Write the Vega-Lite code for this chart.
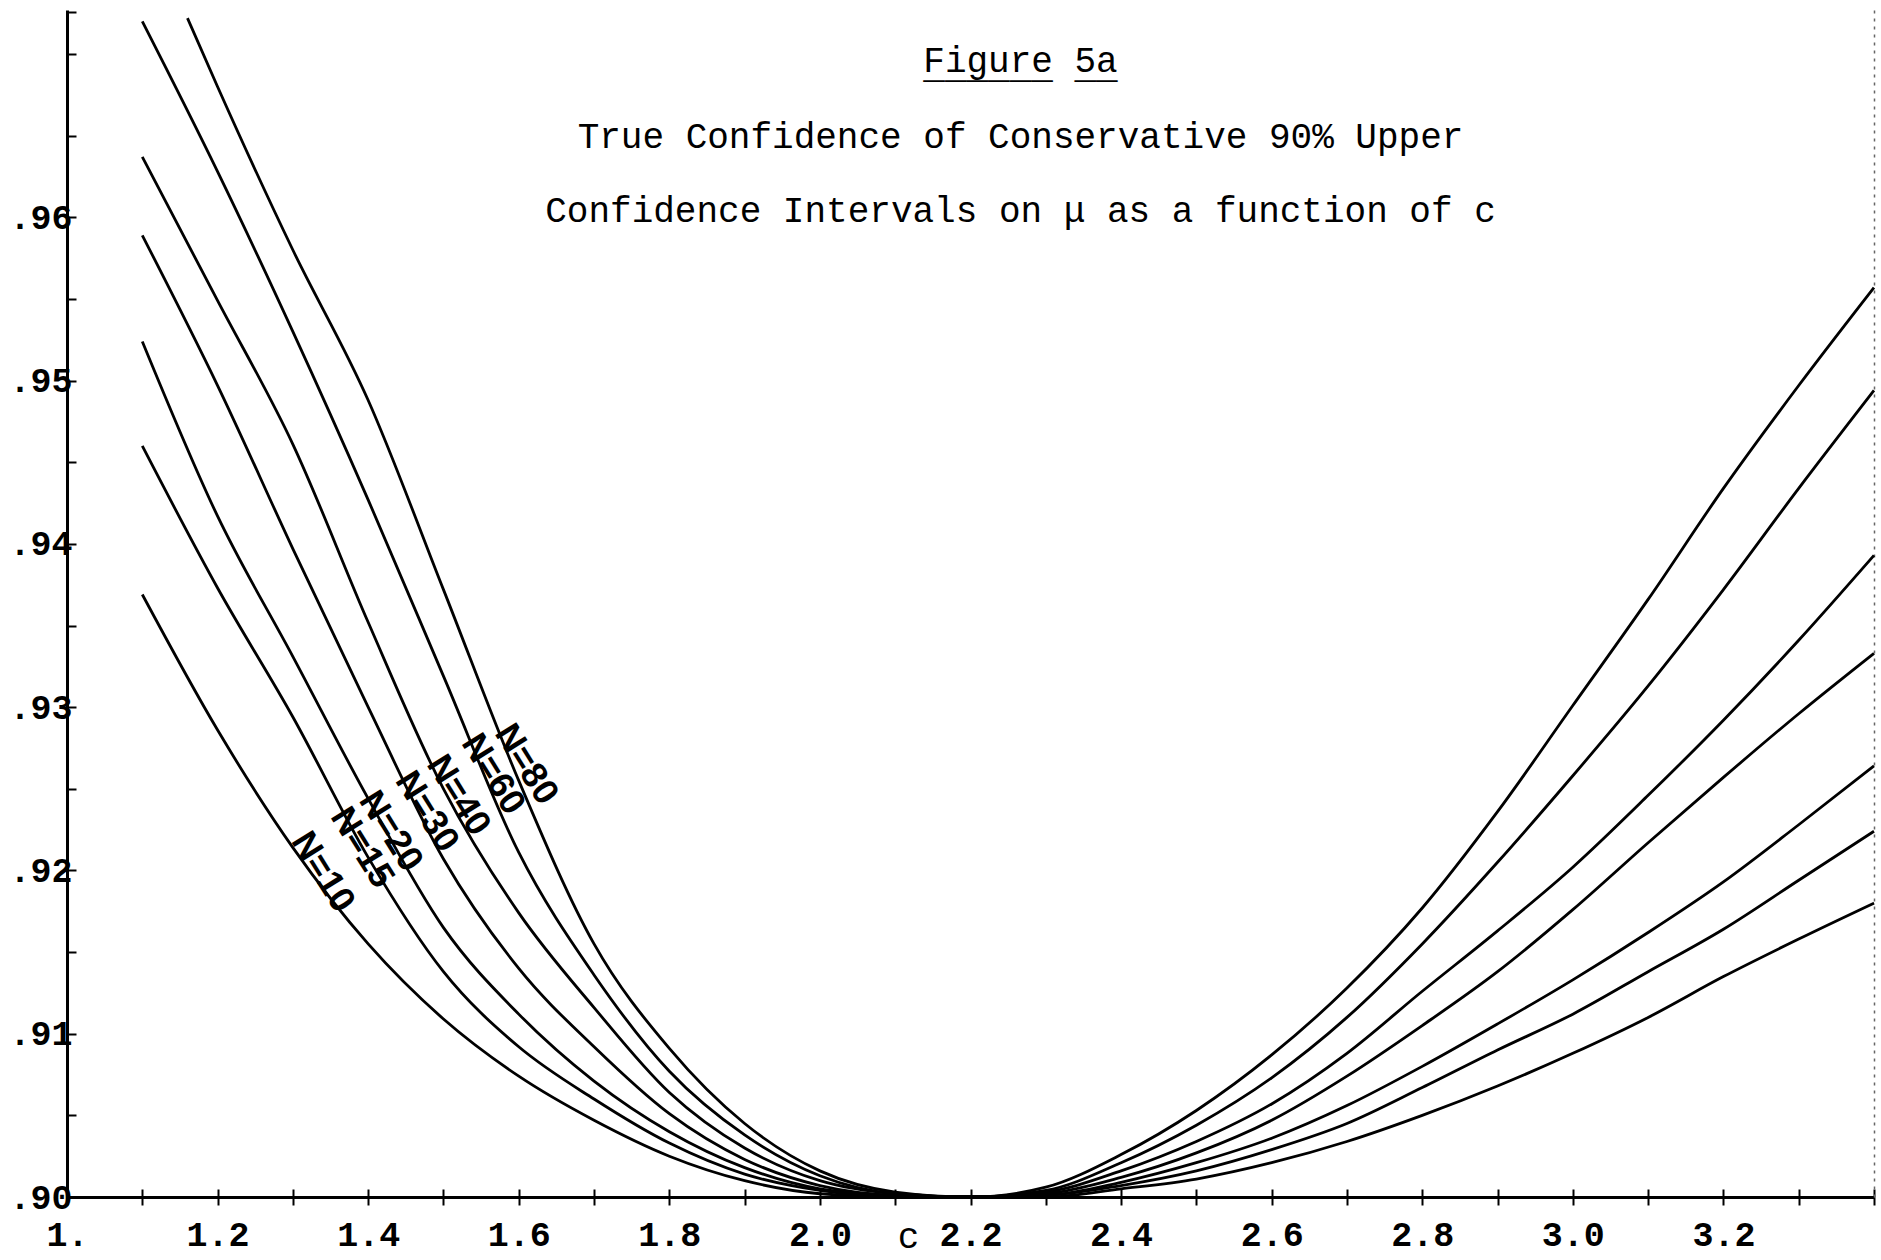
{
  "$schema": "https://vega.github.io/schema/vega-lite/v6.json",
  "width": 1807,
  "height": 1187,
  "autosize": {"type": "none"},
  "padding": {"left": 67, "top": 10, "right": 7, "bottom": 63},
  "background": "white",
  "config": {
    "view": {"stroke": null},
    "font": "Liberation Mono",
    "axis": {"grid": false, "domainColor": "black", "tickColor": "black", "labelColor": "black", "titleColor": "black"}
  },
  "title": {
    "text": ["\u00a0Figure 5a", "\u00a0______ __"],
    "subtitle": ["True Confidence of Conservative 90% Upper", "Confidence Intervals on μ as a function of c"],
    "anchor": "middle",
    "frame": "group",
    "dx": 50,
    "offset": -235,
    "font": "Liberation Mono",
    "fontSize": 36,
    "fontWeight": "normal",
    "lineHeight": 6,
    "color": "black",
    "subtitleFont": "Liberation Mono",
    "subtitleFontSize": 36,
    "subtitleColor": "black",
    "subtitleLineHeight": 74,
    "subtitlePadding": 34
  },
  "datasets": {
    "curves": [
      {"N": 10, "c": 1.1, "p": 0.9369}, {"N": 10, "c": 1.2, "p": 0.9286}, {"N": 10, "c": 1.3, "p": 0.9214}, {"N": 10, "c": 1.4, "p": 0.9155},
      {"N": 10, "c": 1.5, "p": 0.9109}, {"N": 10, "c": 1.6, "p": 0.9074}, {"N": 10, "c": 1.7, "p": 0.9047}, {"N": 10, "c": 1.8, "p": 0.9025},
      {"N": 10, "c": 1.9, "p": 0.9010}, {"N": 10, "c": 2.0, "p": 0.9002}, {"N": 10, "c": 2.1, "p": 0.9000}, {"N": 10, "c": 2.2, "p": 0.9000},
      {"N": 10, "c": 2.3, "p": 0.9000}, {"N": 10, "c": 2.4, "p": 0.9005}, {"N": 10, "c": 2.5, "p": 0.9011}, {"N": 10, "c": 2.6, "p": 0.9021},
      {"N": 10, "c": 2.7, "p": 0.9034}, {"N": 10, "c": 2.8, "p": 0.9050}, {"N": 10, "c": 2.9, "p": 0.9068}, {"N": 10, "c": 3.0, "p": 0.9088},
      {"N": 10, "c": 3.1, "p": 0.9110}, {"N": 10, "c": 3.2, "p": 0.9135}, {"N": 10, "c": 3.3, "p": 0.9158}, {"N": 10, "c": 3.4, "p": 0.9180},

      {"N": 15, "c": 1.1, "p": 0.9460}, {"N": 15, "c": 1.2, "p": 0.9373}, {"N": 15, "c": 1.3, "p": 0.9294}, {"N": 15, "c": 1.4, "p": 0.9208},
      {"N": 15, "c": 1.5, "p": 0.9138}, {"N": 15, "c": 1.6, "p": 0.9092}, {"N": 15, "c": 1.7, "p": 0.9060}, {"N": 15, "c": 1.8, "p": 0.9033},
      {"N": 15, "c": 1.9, "p": 0.9014}, {"N": 15, "c": 2.0, "p": 0.9004}, {"N": 15, "c": 2.1, "p": 0.9000}, {"N": 15, "c": 2.2, "p": 0.9000},
      {"N": 15, "c": 2.3, "p": 0.9001}, {"N": 15, "c": 2.4, "p": 0.9007}, {"N": 15, "c": 2.5, "p": 0.9016}, {"N": 15, "c": 2.6, "p": 0.9029},
      {"N": 15, "c": 2.7, "p": 0.9045}, {"N": 15, "c": 2.8, "p": 0.9067}, {"N": 15, "c": 2.9, "p": 0.9090}, {"N": 15, "c": 3.0, "p": 0.9112},
      {"N": 15, "c": 3.1, "p": 0.9138}, {"N": 15, "c": 3.2, "p": 0.9164}, {"N": 15, "c": 3.3, "p": 0.9194}, {"N": 15, "c": 3.4, "p": 0.9224},

      {"N": 20, "c": 1.1, "p": 0.9524}, {"N": 20, "c": 1.2, "p": 0.9417}, {"N": 20, "c": 1.3, "p": 0.9331}, {"N": 20, "c": 1.4, "p": 0.9244},
      {"N": 20, "c": 1.5, "p": 0.9165}, {"N": 20, "c": 1.6, "p": 0.9112}, {"N": 20, "c": 1.7, "p": 0.9071}, {"N": 20, "c": 1.8, "p": 0.9040},
      {"N": 20, "c": 1.9, "p": 0.9018}, {"N": 20, "c": 2.0, "p": 0.9005}, {"N": 20, "c": 2.1, "p": 0.9001}, {"N": 20, "c": 2.2, "p": 0.9000},
      {"N": 20, "c": 2.3, "p": 0.9001}, {"N": 20, "c": 2.4, "p": 0.9009}, {"N": 20, "c": 2.5, "p": 0.9021}, {"N": 20, "c": 2.6, "p": 0.9036},
      {"N": 20, "c": 2.7, "p": 0.9056}, {"N": 20, "c": 2.8, "p": 0.9080}, {"N": 20, "c": 2.9, "p": 0.9106}, {"N": 20, "c": 3.0, "p": 0.9133},
      {"N": 20, "c": 3.1, "p": 0.9162}, {"N": 20, "c": 3.2, "p": 0.9193}, {"N": 20, "c": 3.3, "p": 0.9228}, {"N": 20, "c": 3.4, "p": 0.9264},

      {"N": 30, "c": 1.1, "p": 0.9589}, {"N": 30, "c": 1.2, "p": 0.9497}, {"N": 30, "c": 1.3, "p": 0.9397}, {"N": 30, "c": 1.4, "p": 0.9300},
      {"N": 30, "c": 1.5, "p": 0.9207}, {"N": 30, "c": 1.6, "p": 0.9140}, {"N": 30, "c": 1.7, "p": 0.9092}, {"N": 30, "c": 1.8, "p": 0.9051},
      {"N": 30, "c": 1.9, "p": 0.9023}, {"N": 30, "c": 2.0, "p": 0.9007}, {"N": 30, "c": 2.1, "p": 0.9001}, {"N": 30, "c": 2.2, "p": 0.9000},
      {"N": 30, "c": 2.3, "p": 0.9002}, {"N": 30, "c": 2.4, "p": 0.9012}, {"N": 30, "c": 2.5, "p": 0.9027}, {"N": 30, "c": 2.6, "p": 0.9047},
      {"N": 30, "c": 2.7, "p": 0.9074}, {"N": 30, "c": 2.8, "p": 0.9105}, {"N": 30, "c": 2.9, "p": 0.9138}, {"N": 30, "c": 3.0, "p": 0.9176},
      {"N": 30, "c": 3.1, "p": 0.9217}, {"N": 30, "c": 3.2, "p": 0.9257}, {"N": 30, "c": 3.3, "p": 0.9296}, {"N": 30, "c": 3.4, "p": 0.9333},

      {"N": 40, "c": 1.1, "p": 0.9637}, {"N": 40, "c": 1.2, "p": 0.9549}, {"N": 40, "c": 1.3, "p": 0.9461}, {"N": 40, "c": 1.4, "p": 0.9352},
      {"N": 40, "c": 1.5, "p": 0.9250}, {"N": 40, "c": 1.6, "p": 0.9174}, {"N": 40, "c": 1.7, "p": 0.9116}, {"N": 40, "c": 1.8, "p": 0.9064},
      {"N": 40, "c": 1.9, "p": 0.9030}, {"N": 40, "c": 2.0, "p": 0.9010}, {"N": 40, "c": 2.1, "p": 0.9002}, {"N": 40, "c": 2.2, "p": 0.9000},
      {"N": 40, "c": 2.3, "p": 0.9003}, {"N": 40, "c": 2.4, "p": 0.9016}, {"N": 40, "c": 2.5, "p": 0.9034}, {"N": 40, "c": 2.6, "p": 0.9057},
      {"N": 40, "c": 2.7, "p": 0.9088}, {"N": 40, "c": 2.8, "p": 0.9126}, {"N": 40, "c": 2.9, "p": 0.9163}, {"N": 40, "c": 3.0, "p": 0.9202},
      {"N": 40, "c": 3.1, "p": 0.9246}, {"N": 40, "c": 3.2, "p": 0.9292}, {"N": 40, "c": 3.3, "p": 0.9341}, {"N": 40, "c": 3.4, "p": 0.9393},

      {"N": 60, "c": 1.1, "p": 0.9720}, {"N": 60, "c": 1.2, "p": 0.9628}, {"N": 60, "c": 1.3, "p": 0.9530}, {"N": 60, "c": 1.4, "p": 0.9427},
      {"N": 60, "c": 1.5, "p": 0.9319}, {"N": 60, "c": 1.6, "p": 0.9211}, {"N": 60, "c": 1.7, "p": 0.9136}, {"N": 60, "c": 1.8, "p": 0.9077},
      {"N": 60, "c": 1.9, "p": 0.9038}, {"N": 60, "c": 2.0, "p": 0.9013}, {"N": 60, "c": 2.1, "p": 0.9002}, {"N": 60, "c": 2.2, "p": 0.9000},
      {"N": 60, "c": 2.3, "p": 0.9004}, {"N": 60, "c": 2.4, "p": 0.9021}, {"N": 60, "c": 2.5, "p": 0.9044}, {"N": 60, "c": 2.6, "p": 0.9073},
      {"N": 60, "c": 2.7, "p": 0.9110}, {"N": 60, "c": 2.8, "p": 0.9155}, {"N": 60, "c": 2.9, "p": 0.9205}, {"N": 60, "c": 3.0, "p": 0.9258},
      {"N": 60, "c": 3.1, "p": 0.9313}, {"N": 60, "c": 3.2, "p": 0.9372}, {"N": 60, "c": 3.3, "p": 0.9434}, {"N": 60, "c": 3.4, "p": 0.9494},

      {"N": 80, "c": 1.16, "p": 0.9722}, {"N": 80, "c": 1.2, "p": 0.9680}, {"N": 80, "c": 1.3, "p": 0.9580}, {"N": 80, "c": 1.4, "p": 0.9488},
      {"N": 80, "c": 1.5, "p": 0.9372}, {"N": 80, "c": 1.6, "p": 0.9255}, {"N": 80, "c": 1.7, "p": 0.9155}, {"N": 80, "c": 1.8, "p": 0.9091},
      {"N": 80, "c": 1.9, "p": 0.9045}, {"N": 80, "c": 2.0, "p": 0.9016}, {"N": 80, "c": 2.1, "p": 0.9003}, {"N": 80, "c": 2.2, "p": 0.9000},
      {"N": 80, "c": 2.3, "p": 0.9006}, {"N": 80, "c": 2.4, "p": 0.9026}, {"N": 80, "c": 2.5, "p": 0.9053}, {"N": 80, "c": 2.6, "p": 0.9087},
      {"N": 80, "c": 2.7, "p": 0.9128}, {"N": 80, "c": 2.8, "p": 0.9177}, {"N": 80, "c": 2.9, "p": 0.9236}, {"N": 80, "c": 3.0, "p": 0.9301},
      {"N": 80, "c": 3.1, "p": 0.9366}, {"N": 80, "c": 3.2, "p": 0.9434}, {"N": 80, "c": 3.3, "p": 0.9497}, {"N": 80, "c": 3.4, "p": 0.9557}
    ],
    "labels": [
      {"label": "N=10", "c": 1.340, "p": 0.9199},
      {"label": "N=15", "c": 1.392, "p": 0.9214},
      {"label": "N=20", "c": 1.430, "p": 0.9224},
      {"label": "N=30", "c": 1.478, "p": 0.9236},
      {"label": "N=40", "c": 1.520, "p": 0.9246},
      {"label": "N=60", "c": 1.566, "p": 0.9259},
      {"label": "N=80", "c": 1.610, "p": 0.9265}
    ]
  },
  "layer": [
    {
      "data": {"name": "curves"},
      "mark": {"type": "line", "color": "black", "strokeWidth": 2.8, "interpolate": "monotone"},
      "encoding": {
        "x": {
          "field": "c", "type": "quantitative",
          "scale": {"domain": [1, 3.4], "nice": false, "zero": false},
          "axis": {
            "orient": "bottom",
            "values": [1, 1.1, 1.2, 1.3, 1.4, 1.5, 1.6, 1.7, 1.8, 1.9, 2.0, 2.1, 2.2, 2.3, 2.4, 2.5, 2.6, 2.7, 2.8, 2.9, 3.0, 3.1, 3.2, 3.3, 3.4],
            "labelExpr": "datum.value == 1 ? '1.' : ((round(datum.value*10) % 2 == 0 && round(datum.value*10) < 34) ? format(datum.value, '.1f') : '')",
            "labelFont": "Liberation Mono", "labelFontSize": 35, "labelFontWeight": "bold",
            "labelPadding": 12, "labelOverlap": false, "labelFlush": false, "labelBound": false,
            "tickSize": 8, "tickWidth": 2, "domainWidth": 3,
            "title": "c", "titleFont": "Liberation Mono", "titleFontSize": 36, "titleFontWeight": "normal",
            "titleX": 841, "titleY": 50, "titleAlign": "center", "titleBaseline": "alphabetic", "titleAnchor": null
          }
        },
        "y": {
          "field": "p", "type": "quantitative",
          "scale": {"domain": [0.9, 0.9727], "nice": false, "zero": false},
          "axis": {
            "orient": "left",
            "values": [0.9, 0.905, 0.91, 0.915, 0.92, 0.925, 0.93, 0.935, 0.94, 0.945, 0.95, 0.955, 0.96, 0.965, 0.97, 0.9726],
            "labelExpr": "(round(datum.value*1000) % 10 == 0 && datum.value < 0.9651) ? '.' + round(datum.value*100) : ''",
            "labelFont": "Liberation Mono", "labelFontSize": 35, "labelFontWeight": "bold",
            "labelPadding": 4, "labelOverlap": false, "labelFlush": false, "labelBound": false,
            "tickSize": -9, "tickWidth": 2, "domainWidth": 3,
            "title": null
          }
        },
        "detail": {"field": "N", "type": "nominal"}
      }
    },
    {
      "data": {"name": "labels"},
      "mark": {"type": "text", "angle": 58, "font": "Liberation Sans", "fontSize": 36, "fontWeight": "bold", "align": "center", "baseline": "middle", "color": "black"},
      "encoding": {
        "x": {
          "field": "c", "type": "quantitative",
          "axis": {
            "orient": "bottom",
            "values": [1, 1.1, 1.2, 1.3, 1.4, 1.5, 1.6, 1.7, 1.8, 1.9, 2.0, 2.1, 2.2, 2.3, 2.4, 2.5, 2.6, 2.7, 2.8, 2.9, 3.0, 3.1, 3.2, 3.3, 3.4],
            "labels": false, "domain": false, "tickSize": -8, "tickWidth": 2, "title": null
          }
        },
        "y": {
          "field": "p", "type": "quantitative",
          "axis": {
            "orient": "right",
            "labels": false, "ticks": false, "title": null,
            "domainDash": [3, 5], "domainColor": "#666666", "domainWidth": 1.5
          }
        },
        "text": {"field": "label", "type": "nominal"}
      }
    }
  ],
  "resolve": {"axis": {"x": "independent", "y": "independent"}}
}
